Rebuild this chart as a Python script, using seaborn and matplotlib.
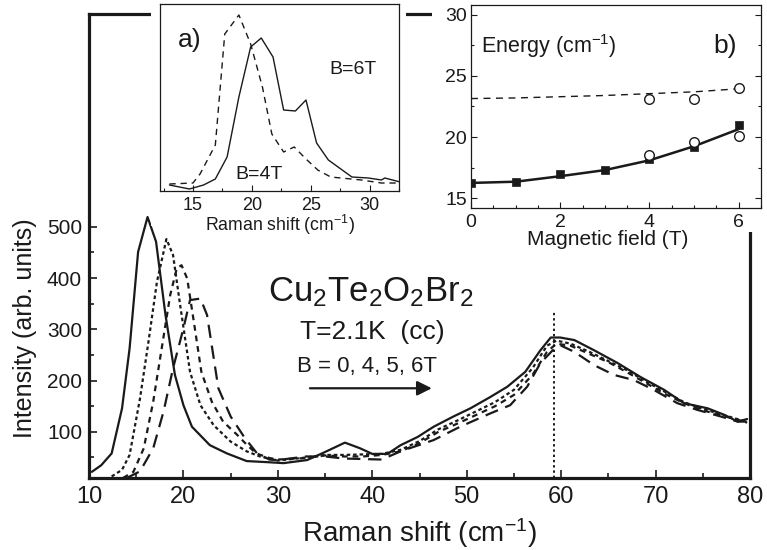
import matplotlib as mpl
import matplotlib.pyplot as plt
from matplotlib.patches import Rectangle
from matplotlib.ticker import MultipleLocator, FixedLocator
import seaborn as sns

# --- main panel: Raman spectra at B = 0, 4, 5, 6 T ---
x_0T = [10.3, 11.3, 12.4, 13.5, 14.3, 15.2, 16.2, 17.1, 18.1, 19.1, 20.0, 20.9, 22.8, 24.6, 26.7,
        28.8, 30.6, 33.1, 34.8, 37.1, 38.7, 40.0, 41.6, 43.0, 44.8, 46.5, 48.6, 50.4, 52.5, 54.3,
        56.2, 57.8, 58.9, 59.9, 61.4, 63.5, 66.0, 68.4, 70.9, 73.0, 75.5, 77.3, 78.7, 79.7]
y_0T = [22, 35, 58, 146, 263, 451, 519, 471, 328, 211, 152, 110, 74, 58, 43,
        41, 39, 45, 59, 79, 68, 57, 57, 74, 90, 110, 130, 146, 168, 188,
        217, 259, 284, 284, 279, 259, 234, 207, 182, 156, 146, 133, 120, 125]

x_4T = [12.4, 13.5, 14.3, 15.4, 16.3, 17.2, 18.2, 18.9, 19.6, 20.7, 21.8, 23.2, 25.0, 26.7, 28.1,
        30, 33, 35, 37, 39, 41, 43, 45, 47, 49, 51, 53, 55, 57, 58.5, 59.5, 61, 63, 65, 67, 69,
        71, 73, 75, 77, 79, 79.7]
y_4T = [13, 26, 55, 165, 276, 393, 476, 445, 354, 217, 152, 113, 81, 62, 52,
        44, 50, 55, 55, 56, 57, 65, 82, 105, 122, 140, 158, 182, 225, 268, 278, 272, 256, 238, 220, 198,
        178, 158, 145, 134, 123, 120]

x_5T = [13.6, 14.7, 15.8, 16.8, 17.7, 18.6, 19.3, 19.8, 20.4, 21.1, 21.9, 23.0, 24.2, 25.7, 26.7,
        27.7, 29.1, 30, 33, 35, 37, 39, 41, 43, 45, 47, 49, 51, 53, 55, 57, 58.5, 59.5, 61, 63, 65,
        67, 69, 71, 73, 75, 77, 79, 79.7]
y_5T = [10, 22, 68, 159, 263, 367, 419, 425, 399, 315, 217, 159, 120, 94, 75,
        58, 49, 46, 49, 54, 52, 52, 55, 62, 78, 100, 116, 133, 150, 172, 212, 256, 272, 268, 252, 236,
        216, 195, 174, 156, 142, 132, 122, 118]

x_6T = [14.0, 15.4, 16.8, 17.9, 18.9, 20.0, 20.7, 21.8, 22.5, 23.7, 25.0, 26.5, 27.8, 29.1, 30,
        33, 35, 37, 39, 41, 43, 46.5, 49.3, 52.5, 54.6, 56.4, 57.8, 59.1, 59.9, 61.4, 63.5, 65.6,
        67.7, 69.8, 72.3, 74.4, 76.9, 78.7, 79.7]
y_6T = [10, 23, 68, 140, 224, 302, 357, 360, 328, 185, 130, 88, 58, 46, 45,
        52, 52, 48, 47, 46, 62, 84, 110, 136, 152, 188, 234, 259, 269, 256, 230, 211,
        201, 182, 156, 143, 130, 120, 120]

peak_line_x = 59.2
peak_line_top = 334

# --- inset a): low-energy mode at 4 T and 6 T (arb. units) ---
xa_4T = [13.0, 15.0, 15.6, 16.9, 17.7, 18.9, 19.9, 20.9, 21.7, 22.7, 23.6, 24.6, 25.6, 26.7, 29.3, 31.0, 32.6]
ya_4T = [7, 8, 17, 46, 157, 176, 147, 104, 57, 39, 44, 32, 21, 14, 11, 8, 8]
xa_6T = [13.0, 14.7, 15.9, 16.9, 17.9, 18.9, 19.9, 20.8, 21.8, 22.7, 23.7, 24.6, 25.5, 26.5, 28.5, 29.9, 31.0, 31.3, 32.6]
ya_6T = [6, 2, 6, 12, 34, 94, 144, 153, 134, 81, 80, 91, 48, 31, 14, 13, 11, 13, 9]

# --- inset b): energy vs magnetic field ---
field_sq = [0, 1, 2, 3, 4, 5, 6]
energy_sq = [16.24, 16.3, 16.95, 17.3, 18.2, 19.2, 21.0]
field_circ = [4, 5, 6, 4, 5, 6]
energy_circ = [23.15, 23.15, 24.0, 18.55, 19.6, 20.05]
field_fit = [0, 1, 2, 3, 4, 5, 6]
energy_fit_low = [16.25, 16.35, 16.8, 17.3, 18.1, 19.25, 20.65]
energy_fit_high = [23.15, 23.2, 23.3, 23.4, 23.55, 23.7, 23.95]

sns.set_style('ticks')
mpl.rcParams.update({
    'font.family': ['Liberation Sans', 'DejaVu Sans'],
    'mathtext.fontset': 'custom',
    'mathtext.rm': 'Liberation Sans',
    'mathtext.it': 'Liberation Sans:italic',
    'mathtext.bf': 'Liberation Sans:bold',
    'text.color': '#1a1a1a',
    'axes.labelcolor': '#1a1a1a',
    'xtick.color': '#1a1a1a',
    'ytick.color': '#1a1a1a',
})

fig = plt.figure(figsize=(7.67, 5.5), dpi=100)
W, H = 767, 550

def frac(x0, y0, x1, y1):
    # pixel box (top-left origin) -> figure fraction rect
    return [x0 / W, 1 - y1 / H, (x1 - x0) / W, (y1 - y0) / H]

ax = fig.add_axes(frac(89, 14, 750, 478))
k = '#1a1a1a'
sns.lineplot(x=x_0T, y=y_0T, ax=ax, color=k, lw=1.6, estimator=None)
sns.lineplot(x=x_4T, y=y_4T, ax=ax, color=k, lw=1.6, estimator=None, linestyle=(0, (1.6, 1.3)))
sns.lineplot(x=x_5T, y=y_5T, ax=ax, color=k, lw=1.6, estimator=None, linestyle=(0, (2.6, 2.2)))
sns.lineplot(x=x_6T, y=y_6T, ax=ax, color=k, lw=1.6, estimator=None, linestyle=(0, (6, 3.5)))
ax.plot([peak_line_x, peak_line_x], [10, peak_line_top], color=k, lw=1.4, linestyle=(0, (1.2, 1.5)))

ax.set_xlim(10, 80)
ax.set_ylim(10, 915)
ax.xaxis.set_major_locator(MultipleLocator(10))
ax.xaxis.set_minor_locator(MultipleLocator(5))
ax.yaxis.set_major_locator(FixedLocator([100, 200, 300, 400, 500]))
ax.yaxis.set_minor_locator(FixedLocator([50, 150, 250, 350, 450]))
ax.tick_params(which='both', direction='in', width=1.2, top=False, right=False)
ax.tick_params(which='major', length=6)
ax.tick_params(which='minor', length=3.5)
ax.tick_params(axis='x', labelsize=17, pad=6)
ax.tick_params(axis='y', labelsize=15, pad=5)
for s in ax.spines.values():
    s.set_linewidth(2.3)
    s.set_color(k)
ax.set_xlabel('Raman shift (cm$^{-1}$)', fontsize=20)
ax.set_ylabel('Intensity (arb. units)', fontsize=18)
ax.xaxis.set_label_coords(0.5, -0.082)
ax.yaxis.set_label_coords(-0.078, 0.322)

ax.text(39.9, 354, 'Cu$_2$Te$_2$O$_2$Br$_2$', fontsize=25, ha='center', va='baseline')
ax.text(40.0, 282, 'T=2.1K  (cc)', fontsize=19, ha='center', va='baseline')
ax.text(39.4, 217, 'B = 0, 4, 5, 6T', fontsize=16, ha='center', va='baseline')
ax.annotate('', xy=(46.3, 185), xytext=(33.4, 185),
            arrowprops=dict(arrowstyle='-|>', color=k, lw=1.6, mutation_scale=22, shrinkA=0, shrinkB=0))

# white boxes behind the insets hide the main frame there
fig.patches.append(Rectangle(frac(151, 0, 406, 226)[:2], 255 / W, 226 / H, transform=fig.transFigure,
                             facecolor='white', edgecolor='none', zorder=2))
fig.patches.append(Rectangle(frac(432, 0, 767, 232)[:2], 335 / W, 232 / H, transform=fig.transFigure,
                             facecolor='white', edgecolor='none', zorder=2))

# inset a)
axa = fig.add_axes(frac(160, 4, 399, 191), zorder=3)
axa.set_facecolor('white')
sns.lineplot(x=xa_4T, y=ya_4T, ax=axa, color=k, lw=1.0, estimator=None, linestyle=(0, (4.5, 3.5)))
sns.lineplot(x=xa_6T, y=ya_6T, ax=axa, color=k, lw=1.0, estimator=None)
axa.set_xlim(12.2, 32.5)
axa.set_ylim(0, 187)
axa.set_yticks([])
axa.xaxis.set_major_locator(MultipleLocator(5))
axa.xaxis.set_minor_locator(MultipleLocator(2.5))
axa.tick_params(axis='x', which='both', direction='in', width=0.8, labelsize=13, pad=4)
axa.tick_params(axis='x', which='major', length=4)
axa.tick_params(axis='x', which='minor', length=2.5)
for s in axa.spines.values():
    s.set_linewidth(0.9)
    s.set_color(k)
axa.set_xlabel('Raman shift (cm$^{-1}$)', fontsize=12.7)
axa.xaxis.set_label_coords(0.5, -0.118)
axa.text(0.075, 0.81, 'a)', transform=axa.transAxes, fontsize=19, va='center')
axa.text(26.6, 121, 'B=6T', fontsize=14, va='center')
axa.text(18.6, 16.5, 'B=4T', fontsize=14, va='center')

# inset b)
axb = fig.add_axes(frac(471, 5, 761, 208), zorder=3)
axb.set_facecolor('white')
sns.lineplot(x=field_fit, y=energy_fit_high, ax=axb, color=k, lw=1.0, estimator=None, linestyle=(0, (5, 4)))
sns.lineplot(x=field_fit, y=energy_fit_low, ax=axb, color=k, lw=1.8, estimator=None)
sns.scatterplot(x=field_sq, y=energy_sq, ax=axb, marker='s', color=k, s=38, edgecolor=k, zorder=4)
sns.scatterplot(x=field_circ, y=energy_circ, ax=axb, marker='o', color='white', s=48,
                edgecolor=k, linewidth=1.0, zorder=5)
axb.set_xlim(0, 6.5)
axb.set_ylim(14.2, 30.8)
axb.xaxis.set_major_locator(MultipleLocator(2))
axb.xaxis.set_minor_locator(MultipleLocator(0.5))
axb.yaxis.set_major_locator(MultipleLocator(5))
axb.yaxis.set_minor_locator(MultipleLocator(2.5))
axb.tick_params(which='both', direction='in', width=0.8, right=True, labelsize=14)
axb.tick_params(which='major', length=4)
axb.tick_params(which='minor', length=2.5)
axb.tick_params(axis='x', pad=4)
axb.tick_params(axis='y', pad=3)
for s in axb.spines.values():
    s.set_linewidth(0.9)
    s.set_color(k)
axb.set_xlabel('Magnetic field (T)', fontsize=15)
axb.xaxis.set_label_coords(0.47, -0.11)
axb.text(0.035, 0.80, 'Energy (cm$^{-1}$)', transform=axb.transAxes, fontsize=15.5, va='center')
axb.text(0.835, 0.80, 'b)', transform=axb.transAxes, fontsize=19, va='center')

fig.savefig('out.png', dpi=100)
